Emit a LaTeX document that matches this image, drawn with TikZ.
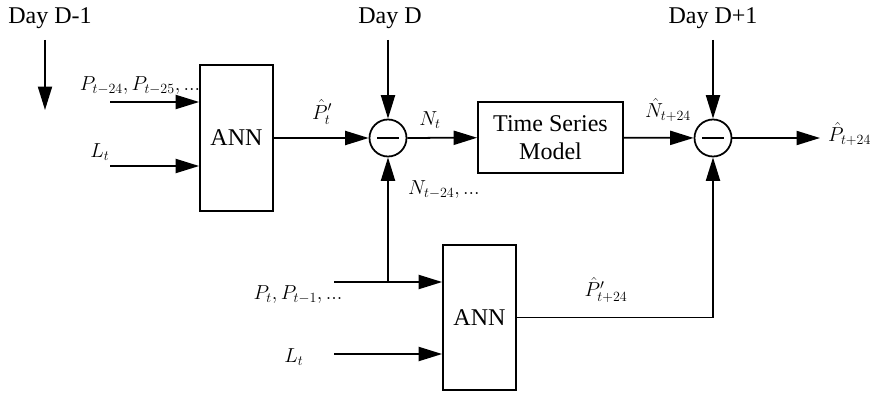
\documentclass[tikz,border=0pt]{standalone}
\usepackage{fontspec}
\setmainfont{Liberation Serif}
\usepackage{amsmath}
\usetikzlibrary{arrows.meta,positioning}

\begin{document}
\begin{tikzpicture}[
    x=0.03cm, y=0.03cm,
    >={Triangle[length=20pt,width=12pt]},
    font=\fontsize{20.5pt}{24pt}\selectfont,
    block/.style={
      rectangle, draw, line width=1.5pt, align=center, inner sep=0pt
    },
    annbox/.style={block, minimum width=2.19cm, minimum height=4.36cm},
    sumnode/.style={
      circle, draw, line width=1.5pt, minimum size=1.11cm, inner sep=0pt,
      path picture={\draw[line width=2.2pt]
        ([xshift=-0.33cm]path picture bounding box.center) --
        ([xshift=0.33cm]path picture bounding box.center);}
    },
    arr/.style={->, line width=1.5pt},
    lbl/.style={inner sep=0pt},
    mlbl/.style={inner sep=0pt, font=\fontsize{17pt}{20pt}\selectfont}
  ]
  \useasboundingbox (0,0) rectangle (871,-395);

  \node[annbox] (ann1) at (236.5,-138) {ANN};
  \node[sumnode] (sub1) at (388,-138) {};
  \node[block, minimum width=4.35cm, minimum height=2.13cm] (tsm)
    at (550.5,-137.5) {Time Series\\Model};
  \node[sumnode] (sub2) at (713,-138) {};
  \node[annbox] (ann2) at (479.5,-317.5) {ANN};

  \node[lbl] (dayprev) at (50,-18) {Day D-1};
  \node[lbl] (day) at (390,-18) {Day D};
  \node[lbl] (daynext) at (713,-18) {Day D+1};

  \coordinate (dp1) at (45,-40);
  \coordinate (dp2) at (45,-110);
  \coordinate (d1) at (388,-40);
  \coordinate (dn1) at (713,-40);
  \coordinate (pin) at (110,-102);
  \coordinate (lin) at (110,-166);
  \coordinate (out) at (820,-138);
  \coordinate (jn) at (388,-282);
  \coordinate (pin2) at (334,-282);
  \coordinate (lin2) at (334,-354);

  \draw[arr] (dp1) -- (dp2);
  \draw[arr] (d1) -- (sub1);
  \draw[arr] (dn1) -- (sub2);
  \draw[arr] (pin) -- (pin -| ann1.west);
  \draw[arr] (lin) -- (lin -| ann1.west);
  \draw[arr] (ann1) -- (sub1);
  \draw[arr] (sub1) -- (tsm);
  \draw[arr] (tsm) -- (sub2);
  \draw[arr] (sub2) -- (out);
  \draw[arr] (pin2) -- (pin2 -| ann2.west);
  \draw[arr] (lin2) -- (lin2 -| ann2.west);
  \draw[arr] (jn) -- (sub1);
  \draw[arr] (ann2.east) -| (sub2);

  \node[mlbl] (lpin) at (140,-86) {$P_{t-24},P_{t-25},...$};
  \node[mlbl] (llin) at (100,-152) {$L_t$};
  \node[mlbl] (lp1) at (322,-112) {$\hat{P}'_t$};
  \node[mlbl] (lnt) at (430,-120) {$N_t$};
  \node[mlbl] (lnt24) at (444,-190) {$N_{t-24},...$};
  \node[mlbl] (lnh) at (668,-110) {$\hat{N}_{t+24}$};
  \node[mlbl, anchor=west] (lout) at (828,-134) {$\hat{P}_{t+24}$};
  \node[mlbl] (lpin2) at (298,-295) {$P_t,P_{t-1},...$};
  \node[mlbl] (llin2) at (294,-357) {$L_t$};
  \node[mlbl] (lp2) at (606,-290) {$\hat{P}'_{t+24}$};
\end{tikzpicture}
\end{document}
